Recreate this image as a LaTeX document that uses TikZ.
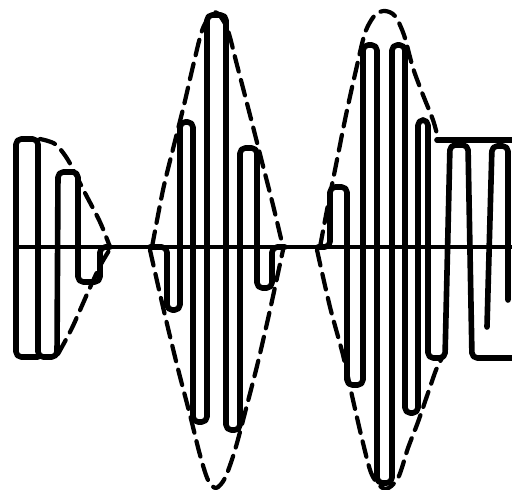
\documentclass[tikz,border=0pt]{standalone}
\usepackage{tikz}
\begin{document}
\begin{tikzpicture}[x=0.02cm,y=-0.02cm,
  wave/.style={line width=3.2pt,rounded corners=3pt,line cap=round,line join=round},
  envelope/.style={line width=2.4pt,dash pattern=on 9pt off 5pt,line cap=round}]
\useasboundingbox (0,0) rectangle (512,490);
\draw[line width=2.8pt] (16,247) -- (512,247);
\draw[wave] (38,357) -- (16,357) -- (16,139) -- (38,139) -- (38,357) -- (57,357) -- (58,172) -- (78,172) -- (78,282) -- (100,282) -- (100,247) -- (110,247);
\draw[wave] (150,247) -- (167,247) -- (167,310) -- (180,310) -- (180,122) -- (193,122) -- (193,422) -- (207,422) -- (207,15) -- (226,15) -- (226,430) -- (240,430) -- (240,148) -- (257,148) -- (257,288) -- (272,288) -- (272,247) -- (285,247);
\draw[wave] (318,247) -- (330,247) -- (330,187) -- (347,187) -- (347,385) -- (363,385) -- (363,45) -- (377,45) -- (377,483) -- (392,483) -- (392,45) -- (405,45) -- (405,413) -- (418,413) -- (418,120) -- (428,120) -- (428,358) -- (445,358) -- (450,145) -- (468,145) -- (472,358) -- (512,358);
\draw[wave] (437,140) -- (512,140);
\draw[wave] (487,327) -- (492,146) -- (508,146) -- (508,300);
\draw[envelope] plot[smooth] coordinates {(40,139) (55,144) (68,160) (85,193) (100,222) (110,247)};
\draw[envelope] plot[smooth] coordinates {(58,354) (72,328) (88,292) (100,266) (110,249)};
\draw[envelope] plot[smooth] coordinates {(152,247) (163,190) (174,145) (184,105) (194,62) (203,28) (215,12) (227,28) (237,65) (250,115) (262,162) (273,205) (283,247)};
\draw[envelope] plot[smooth] coordinates {(150,250) (163,307) (177,365) (190,415) (200,455) (208,480) (216,488) (225,478) (235,450) (247,405) (258,362) (270,310) (283,250)};
\draw[envelope] plot[smooth] coordinates {(320,247) (327,210) (336,165) (346,115) (356,70) (365,33) (375,15) (385,11) (395,16) (404,35) (413,68) (423,95) (433,120) (438,138)};
\draw[envelope] plot[smooth] coordinates {(317,250) (330,307) (343,355) (353,400) (363,443) (372,475) (385,489) (398,478) (408,448) (418,422) (428,393) (436,370) (442,358)};
\end{tikzpicture}
\end{document}
